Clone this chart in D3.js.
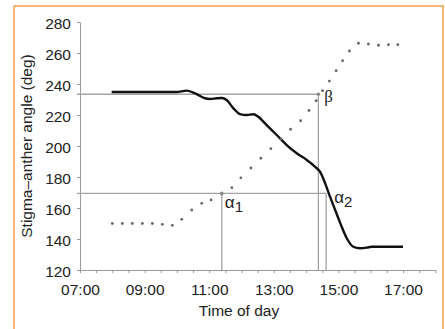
<!DOCTYPE html>
<html>
<head>
<meta charset="utf-8">
<script src="https://cdn.jsdelivr.net/npm/d3@7"></script>
<style>
    body { margin: 0; background: #fff; }
    text { font-family: "Liberation Sans", Arial, sans-serif; fill: #222; }
    .axis path, .axis line { stroke: #9a9a9a; }
</style>
</head>
<body>
<div id="chart"></div>
<script>
// dotted series: time of day (hours) and angle (deg)
const dotTimes = [8.00, 8.31, 8.62, 8.93, 9.24, 9.55, 9.86, 10.15, 10.46, 10.77, 11.06, 11.39,
    11.70, 11.98, 12.29, 12.60, 12.91, 13.22, 13.52, 13.83, 14.09, 14.31, 14.51, 14.72,
    14.93, 15.13, 15.34, 15.62, 15.93, 16.24, 16.55, 16.84];
const dotAngles = [150, 150, 150, 150, 150, 149.5, 148.8, 152.7, 158.7, 163.0, 165.2, 169.0,
    173.1, 179.5, 185.8, 192.1, 198.3, 204.5, 210.8, 216.3, 222.9, 229.2, 235.7, 241.9,
    248.6, 255.0, 261.3, 266.3, 265.8, 265.0, 265.4, 265.4];

// solid series
const lineTimes = [7.98, 9.99, 10.30, 10.61, 10.87, 11.02, 11.23, 11.39, 11.54, 11.75, 11.95,
    12.16, 12.37, 12.52, 12.78, 13.09, 13.40, 13.71, 14.02, 14.28, 14.43, 14.59, 14.74,
    14.90, 15.06, 15.26, 15.46, 15.67, 15.88, 16.03, 17.00];
const lineAngles = [234.8, 234.8, 235.7, 233.5, 230.8, 230.3, 230.8, 231.0, 229.7, 224.3, 220.6,
    220.0, 220.5, 218.9, 213.5, 207.1, 200.6, 195.3, 191.0, 186.6, 183.4, 175.9, 167.3,
    158.7, 150.1, 140.5, 135.0, 134.0, 134.4, 135.0, 135.0];

// reference points alpha1, beta, alpha2
const refNames = ["α", "β", "α"];
const refSubs = ["1", "", "2"];
const refTimes = [11.39, 14.38, 14.62];
const refAngles = [169.5, 233.4, 169.5];

const yTicks = [120, 140, 160, 180, 200, 220, 240, 260, 280];
const xLabelTicks = [7, 9, 11, 13, 15, 17];

let width = 445, height = 329;

let svg = d3.select("#chart")
    .append("svg")
    .attr("width", width)
    .attr("height", height);

// orange frame
svg.append("rect")
    .attr("x", 14)
    .attr("y", 6)
    .attr("width", 429)
    .attr("height", 340)
    .attr("fill", "none")
    .attr("stroke", "#f4a04f")
    .attr("stroke-width", 1.5);

let x = d3.scaleLinear()
    .domain([7, 18])
    .range([80, 435.3]);

let y = d3.scaleLinear()
    .domain([120, 280])
    .range([270, 22]);

let fmt = d => (d < 10 ? "0" : "") + d + ":00";

// axes
svg.append("g")
    .attr("class", "axis")
    .attr("transform", `translate(0, ${y(120)})`)
    .call(d3.axisBottom(x)
        .tickValues(d3.range(7, 18.01, 0.5))
        .tickSize(3)
        .tickSizeOuter(0)
        .tickPadding(11)
        .tickFormat(d => xLabelTicks.includes(d) ? fmt(d) : ""))
    .call(g => g.selectAll("text").style("font-size", "15.5px").attr("fill", "#222"));

svg.append("g")
    .attr("class", "axis")
    .attr("transform", `translate(${x(7)}, 0)`)
    .call(d3.axisLeft(y)
        .tickValues(yTicks)
        .tickSize(3)
        .tickSizeOuter(0)
        .tickPadding(6))
    .call(g => g.selectAll("text").style("font-size", "15.5px").attr("dy", "0.42em").attr("fill", "#222"));

// reference lines
let refColor = "#a3a3a3";
svg.append("line")
    .attr("x1", x(7) - 3).attr("x2", x(refTimes[1]))
    .attr("y1", y(refAngles[1])).attr("y2", y(refAngles[1]))
    .attr("stroke", refColor).attr("stroke-width", 1.3);
svg.append("line")
    .attr("x1", x(7) - 3).attr("x2", x(refTimes[2]))
    .attr("y1", y(refAngles[0])).attr("y2", y(refAngles[0]))
    .attr("stroke", refColor).attr("stroke-width", 1.3);

svg.selectAll(".refV")
    .data(refTimes)
    .join("line")
    .attr("class", "refV")
    .attr("x1", d => x(d)).attr("x2", d => x(d))
    .attr("y1", (d, i) => y(refAngles[i])).attr("y2", y(120))
    .attr("stroke", refColor)
    .attr("stroke-width", 1.3);

// solid line
let line = d3.line()
    .x((d, i) => x(lineTimes[i]))
    .y(d => y(d))
    .curve(d3.curveMonotoneX);

svg.append("path")
    .datum(lineAngles)
    .attr("d", line)
    .attr("fill", "none")
    .attr("stroke", "#111")
    .attr("stroke-width", 2.4)
    .attr("stroke-linejoin", "round");

// dotted series
svg.selectAll(".dot")
    .data(dotAngles)
    .join("circle")
    .attr("class", "dot")
    .attr("cx", (d, i) => x(dotTimes[i]))
    .attr("cy", d => y(d))
    .attr("r", 1.4)
    .attr("fill", "#666");

// markers at alpha1 and beta
svg.selectAll(".refDot")
    .data([0, 1])
    .join("circle")
    .attr("class", "refDot")
    .attr("cx", i => x(refTimes[i]))
    .attr("cy", i => y(refAngles[i]))
    .attr("r", 1.8)
    .attr("fill", "#8a8a8a");

// greek labels
let labelOffsets = [[3, 15], [6, 8], [8, 10]];
let refLabels = svg.selectAll(".refLabel")
    .data(refNames)
    .join("text")
    .attr("class", "refLabel")
    .attr("x", (d, i) => x(refTimes[i]) + labelOffsets[i][0])
    .attr("y", (d, i) => y(refAngles[i]) + labelOffsets[i][1])
    .style("font-size", (d, i) => i === 1 ? "17px" : "17px")
    .style("font-family", (d, i) => i === 1 ? "'Liberation Serif', serif" : null)
    .text(d => d);

refLabels.append("tspan")
    .attr("dy", 4)
    .style("font-size", "15px")
    .text((d, i) => refSubs[i]);

// axis titles
svg.append("text")
    .attr("x", 239)
    .attr("y", 316)
    .attr("text-anchor", "middle")
    .style("font-size", "15.5px")
    .text("Time of day");

svg.append("text")
    .attr("transform", "translate(32, 146) rotate(-90)")
    .attr("text-anchor", "middle")
    .style("font-size", "15.5px")
    .text("Stigma–anther angle (deg)");
</script>
</body>
</html>
